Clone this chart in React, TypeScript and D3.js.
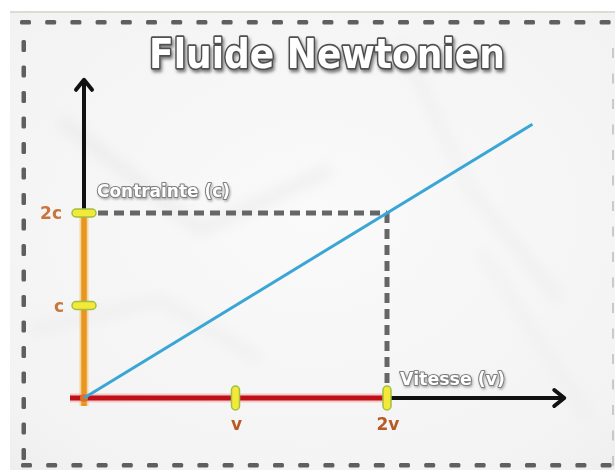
import React from "react";
import * as d3 from "d3";

// Axis tick definitions (in units of v and c)
const velocityTicks = [1, 2];
const velocityLabels = ["v", "2v"];
const stressTicks = [1, 2];
const stressLabels = ["c", "2c"];

// Newtonian fluid: stress proportional to velocity
const lineVelocity = [0, 2.96];
const lineStress = [0, 2.96];

// Reference point drawn with dashed guides
const guideVelocity = 2;
const guideStress = 2;

const titleText = "Fluide Newtonien";
const yAxisTitle = "Contrainte (c)";
const xAxisTitle = "Vitesse (v)";

const W = 615;
const H = 470;

export default function App() {
  const x = d3.scaleLinear().domain([0, 1]).range([84, 235.5]);
  const y = d3.scaleLinear().domain([0, 1]).range([398, 305.5]);

  const linePts: [number, number][] = lineVelocity.map((v, i) => [v, lineStress[i]]);
  const lineGen = d3
    .line<[number, number]>()
    .x((d) => x(d[0]))
    .y((d) => y(d[1]));

  const x0 = x(0);
  const y0 = y(0);
  const gx = x(guideVelocity);
  const gy = y(guideStress);
  const xEnd = x(3.17);
  const yEnd = y(3.44);

  // dashed frame pieces
  const topDashes = d3.range(20, 615, 25.2);
  const leftDashes = d3.range(40, 455, 25.5);
  const bottomDashes = d3.range(21, 615, 25.2);

  const font = "'DejaVu Sans', 'Liberation Sans', sans-serif";

  return (
    <svg
      width={W}
      height={H}
      style={{ position: "absolute", left: 0, top: 0, display: "block" }}
      xmlns="http://www.w3.org/2000/svg"
    >
      <defs>
        <radialGradient id="paper" cx="0.5" cy="0.45" r="0.85">
          <stop offset="0" stopColor="#fafafa" />
          <stop offset="0.75" stopColor="#f3f3f3" />
          <stop offset="1" stopColor="#e9e9e9" />
        </radialGradient>
        <filter id="soft" x="-10%" y="-10%" width="120%" height="120%">
          <feGaussianBlur stdDeviation="0.6" />
        </filter>
        <filter id="titleShadow" x="-10%" y="-30%" width="120%" height="160%">
          <feDropShadow dx="1.5" dy="2.5" stdDeviation="1.5" floodColor="#000" floodOpacity="0.5" />
        </filter>
        <filter id="labelShadow" x="-10%" y="-30%" width="120%" height="160%">
          <feDropShadow dx="1" dy="1.5" stdDeviation="1" floodColor="#000" floodOpacity="0.3" />
        </filter>
        <filter id="crease">
          <feGaussianBlur stdDeviation="7" />
        </filter>
      </defs>

      <rect x={0} y={0} width={W} height={H} fill="#ffffff" />
      <rect x={10} y={11} width={W - 10} height={H - 11} fill="url(#paper)" />
      {/* paper creases */}
      <g filter="url(#crease)" opacity={0.3}>
        <path d="M 60 120 L 200 230 L 330 170" stroke="#d0d0d0" strokeWidth={10} fill="none" />
        <path d="M 400 40 L 470 190 L 560 300" stroke="#dadada" strokeWidth={8} fill="none" />
        <path d="M 30 330 L 160 300 L 260 360" stroke="#dcdcdc" strokeWidth={10} fill="none" />
        <path d="M 480 250 L 590 420" stroke="#e0e0e0" strokeWidth={8} fill="none" />
      </g>
      <rect x={10} y={11} width={W - 10} height={2} fill="#dcdcd4" />

      {/* dashed frame */}
      <g fill="#5e5e5e" filter="url(#soft)">
        {topDashes.map((d, i) => (
          <rect key={"t" + i} x={d} y={20} width={11} height={4.5} rx={1.5} />
        ))}
        {bottomDashes.map((d, i) => (
          <rect key={"b" + i} x={d} y={463} width={11} height={4.5} rx={1.5} />
        ))}
        {leftDashes.map((d, i) => (
          <rect key={"l" + i} x={21.5} y={d} width={4.5} height={12} rx={1.5} />
        ))}
      </g>
      <g fill="#999" opacity={0.45}>
        {leftDashes.map((d, i) => (
          <rect key={"r" + i} x={612} y={d + 8} width={2} height={10} />
        ))}
      </g>

      {/* title */}
      <text
        x={327}
        y={68}
        textAnchor="middle"
        fontFamily={font}
        fontWeight="bold"
        fontSize={41}
        textLength={356}
        lengthAdjust="spacingAndGlyphs"
        fill="#ffffff"
        stroke="#505050"
        strokeWidth={3.4}
        strokeLinejoin="round"
        paintOrder="stroke"
        filter="url(#titleShadow)"
      >
        {titleText}
      </text>

      {/* guide lines */}
      <g filter="url(#soft)">
        <line x1={x0 + 14} y1={gy} x2={gx} y2={gy} stroke="#666" strokeWidth={5} strokeDasharray="10 6" />
        <line x1={gx} y1={gy} x2={gx} y2={y0 - 10} stroke="#666" strokeWidth={5} strokeDasharray="10 6" />
      </g>

      {/* y axis: black part with arrow */}
      <line x1={x0} y1={gy} x2={x0} y2={yEnd + 2} stroke="#111" strokeWidth={4} />
      <path
        d={`M ${x0 - 8} ${yEnd + 10} L ${x0} ${yEnd} L ${x0 + 8} ${yEnd + 10}`}
        stroke="#111"
        strokeWidth={4}
        fill="none"
        strokeLinecap="round"
        strokeLinejoin="round"
      />
      {/* x axis: black part with arrow */}
      <line x1={gx} y1={y0} x2={xEnd - 2} y2={y0} stroke="#111" strokeWidth={4} />
      <path
        d={`M ${xEnd - 10} ${y0 - 8} L ${xEnd} ${y0} L ${xEnd - 10} ${y0 + 8}`}
        stroke="#111"
        strokeWidth={4}
        fill="none"
        strokeLinecap="round"
        strokeLinejoin="round"
      />

      {/* stress segment (orange) */}
      <line x1={x0} y1={gy} x2={x0} y2={y0 + 8} stroke="#f6c070" strokeWidth={9} opacity={0.6} />
      <line x1={x0} y1={gy} x2={x0} y2={y0 + 8} stroke="#e8961e" strokeWidth={5.5} />
      {/* velocity segment (red) */}
      <line x1={x0 - 14} y1={y0} x2={gx} y2={y0} stroke="#f0a0a0" strokeWidth={9} opacity={0.5} />
      <line x1={x0 - 14} y1={y0} x2={gx} y2={y0} stroke="#bf1018" strokeWidth={5} />
      <circle cx={x0} cy={y0} r={4} fill="#e07020" />

      {/* Newtonian line */}
      <path d={lineGen(linePts) ?? ""} stroke="#3aa6d6" strokeWidth={3} fill="none" />

      {/* ticks */}
      {stressTicks.map((t, i) => (
        <g key={"st" + i}>
          <rect
            x={x0 - 12}
            y={y(t) - 4}
            width={24}
            height={8}
            rx={4}
            fill="#f4e838"
            stroke="#9fc040"
            strokeWidth={1.5}
          />
          <text
            x={i === 0 ? x0 - 20 : x0 - 22}
            y={y(t) + 6}
            textAnchor="end"
            fontFamily={font}
            fontWeight="bold"
            fontSize={17}
            fill="#c8763a"
            filter="url(#soft)"
          >
            {stressLabels[i]}
          </text>
        </g>
      ))}
      {velocityTicks.map((t, i) => (
        <g key={"vt" + i}>
          <rect
            x={x(t) - 4}
            y={y0 - 12}
            width={8}
            height={24}
            rx={4}
            fill="#f4e838"
            stroke="#9fc040"
            strokeWidth={1.5}
          />
          <text
            x={x(t) + 1}
            y={y0 + 32}
            textAnchor="middle"
            fontFamily={font}
            fontWeight="bold"
            fontSize={17}
            fill="#b85a28"
            filter="url(#soft)"
          >
            {velocityLabels[i]}
          </text>
        </g>
      ))}

      {/* axis titles */}
      <text
        x={97}
        y={197}
        fontFamily={font}
        fontWeight="bold"
        fontSize={18}
        textLength={133}
        lengthAdjust="spacingAndGlyphs"
        fill="#ffffff"
        stroke="#7e7e7e"
        strokeWidth={2.2}
        strokeLinejoin="round"
        paintOrder="stroke"
        filter="url(#labelShadow)"
      >
        {yAxisTitle}
      </text>
      <text
        x={400}
        y={385}
        fontFamily={font}
        fontWeight="bold"
        fontSize={18}
        textLength={105}
        lengthAdjust="spacingAndGlyphs"
        fill="#ffffff"
        stroke="#7e7e7e"
        strokeWidth={2.2}
        strokeLinejoin="round"
        paintOrder="stroke"
        filter="url(#labelShadow)"
      >
        {xAxisTitle}
      </text>
    </svg>
  );
}
